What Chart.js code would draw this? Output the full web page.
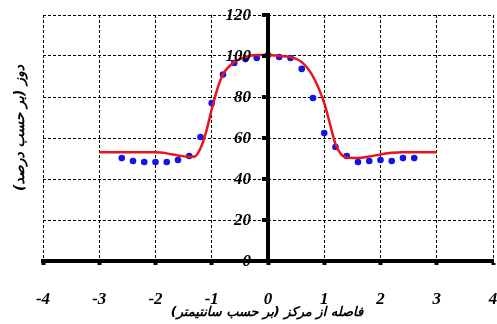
<!DOCTYPE html>
<html>
<head>
<meta charset="utf-8">
<script src="https://cdn.jsdelivr.net/npm/chart.js@4"></script>
<style>
  html, body { margin: 0; padding: 0; background: #fff; }
  #wrap { width: 497px; height: 324px; }
</style>
</head>
<body>
<div id="wrap"><canvas id="myChart" width="497" height="324"></canvas></div>
<script>
// measured dose points
var measuredX = [-2.6, -2.4, -2.2, -2.0, -1.8, -1.6, -1.4, -1.2, -1.0, -0.8, -0.6, -0.4, -0.2, 0,
                 0.2, 0.4, 0.6, 0.8, 1.0, 1.2, 1.4, 1.6, 1.8, 2.0, 2.2, 2.4, 2.6];
var measuredY = [50.2, 48.8, 48.3, 48.3, 48.3, 49.3, 51.2, 60.5, 77, 91, 96.6, 98.5, 99, 100.5,
                 99.5, 99, 93.7, 79.5, 62.4, 55.6, 51.2, 48.3, 48.8, 49.3, 48.8, 50.2, 50.2];

// calculated profile
var profileX = [-3, -2.8, -2.6, -2.4, -2.2, -2.0, -1.8, -1.6, -1.4, -1.3, -1.2, -1.1, -1.0, -0.9, -0.8,
                -0.6, -0.4, -0.2, 0, 0.2, 0.4, 0.6, 0.8, 1.0, 1.1, 1.2, 1.3, 1.4, 1.6, 1.8, 2.0,
                2.2, 2.4, 2.6, 2.8, 3.0];
var profileY = [53, 53, 53, 53, 53, 53, 52.5, 51.5, 50.8, 51, 55, 63, 74, 84, 91,
                97, 99.5, 100.5, 100.5, 100, 99.5, 97, 90, 77, 67, 57, 52, 50.5, 50.3, 51, 52,
                52.8, 53, 53, 53, 53];

var xTicks = [-4, -3, -2, -1, 0, 1, 2, 3, 4];
var yTicks = [0, 20, 40, 60, 80, 100, 120];

var xTitle = 'فاصله از مرکز (بر حسب سانتیمتر)';
var yTitle = 'دوز (بر حسب درصد)';

function pairs(xs, ys) {
  return xs.map(function (x, i) { return { x: x, y: ys[i] }; });
}

var tickFont = { family: '"Liberation Serif", serif', size: 17, weight: 'bold', style: 'italic' };

// vertical axis sits at x = 0, with its labels on the left side of it
var centerAxis = {
  id: 'centerAxis',
  afterDatasetsDraw: function (chart) {
    var c = chart.ctx, xs = chart.scales.x, ys = chart.scales.y;
    var x0 = xs.getPixelForValue(0);
    c.save();
    c.fillStyle = '#000';
    c.fillRect(x0 - 2, chart.chartArea.top - 2, 4, chart.chartArea.bottom - chart.chartArea.top + 4);
    c.font = 'italic bold 17px "Liberation Serif"';
    c.textAlign = 'right';
    c.textBaseline = 'middle';
    ys.ticks.forEach(function (t) {
      var py = ys.getPixelForValue(t.value);
      c.fillRect(x0 - 6, py - 2, 4, 4);
      c.fillText(String(t.value), x0 - 17, py + 1);
    });
    c.restore();
  },
  afterDraw: function (chart) {
    var c = chart.ctx;
    c.save();
    c.fillStyle = '#000';
    c.direction = 'rtl';
    c.textAlign = 'center';
    c.textBaseline = 'middle';
    c.font = 'italic bold 13px "DejaVu Sans"';
    c.fillText(xTitle, 267, 313);
    c.translate(20, 128);
    c.rotate(-Math.PI / 2);
    c.font = 'italic bold 14px "DejaVu Sans"';
    c.fillText(yTitle, 0, 0);
    c.restore();
  }
};

var ctx = document.getElementById('myChart').getContext('2d');

var myChart = new Chart(ctx, {
  type: 'scatter',
  data: {
    datasets: [{
      type: 'line',
      data: pairs(profileX, profileY),
      borderColor: '#e8141e',
      borderWidth: 2.5,
      pointRadius: 0,
      tension: 0.4,
      cubicInterpolationMode: 'monotone',
      fill: false
    }, {
      data: pairs(measuredX, measuredY),
      backgroundColor: '#1414e6',
      borderColor: '#1414e6',
      pointRadius: 3.3,
      pointBorderWidth: 0
    }]
  },
  options: {
    responsive: false,
    animation: false,
    layout: { padding: { left: 43, right: 4, top: 15, bottom: 14 } },
    plugins: {
      legend: { display: false },
      tooltip: { enabled: false }
    },
    scales: {
      x: {
        type: 'linear',
        position: 'bottom',
        min: -4,
        max: 4,
        afterBuildTicks: function (axis) {
          axis.ticks = xTicks.map(function (v) { return { value: v }; });
        },
        // the label padding is otherwise counted twice in the height and added at the sides
        afterFit: function (axis) {
          axis.height = 49;
          axis.paddingLeft = 0;
          axis.paddingRight = 0;
        },
        ticks: { color: '#000', font: tickFont, padding: 24 },
        grid: { color: '#000', lineWidth: 1, tickLength: 4, tickWidth: 4, tickColor: '#000' },
        border: { color: '#000', width: 4, dash: [3, 2] }
      },
      y: {
        type: 'linear',
        position: 'left',
        min: 0,
        max: 120,
        afterBuildTicks: function (axis) {
          axis.ticks = yTicks.map(function (v) { return { value: v }; });
        },
        ticks: { display: false },
        grid: { color: '#000', lineWidth: 1, drawTicks: false },
        border: { display: false, dash: [3, 2] }
      }
    }
  },
  plugins: [centerAxis]
});
</script>
</body>
</html>
